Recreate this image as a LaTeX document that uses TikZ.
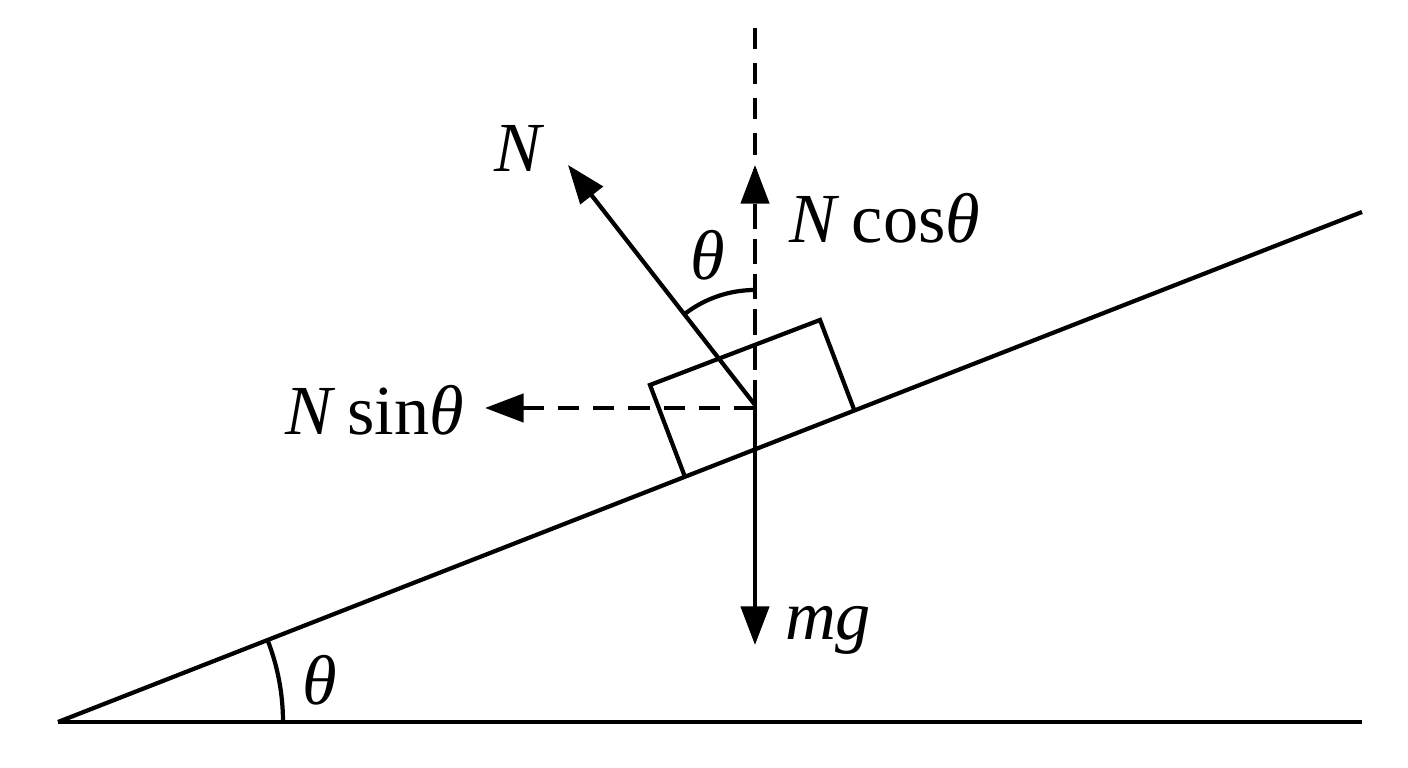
\documentclass[tikz,border=0pt]{standalone}
\usepackage{fontspec}
\setmainfont{Liberation Serif}
\usetikzlibrary{arrows.meta}
\begin{document}
\begin{tikzpicture}[x=0.01cm,y=-0.01cm,line width=1.2pt,
 arr/.style={-{Triangle[length=11pt,width=8pt]}},
 dsh/.style={dash pattern=on 6pt off 4pt},
 lab/.style={font=\fontsize{20}{23}\selectfont,inner sep=0pt}]
\useasboundingbox (0,0) rectangle (1408,768);
\coordinate (A) at (58,722);
\coordinate (B) at (1362,722);
\coordinate (C) at (1362,212);
\coordinate (O) at (755,405);
\coordinate (T) at (755,28);
\coordinate (Tc) at (755,165);
\coordinate (Nt) at (568,165);
\coordinate (S) at (485,408);
\coordinate (G) at (755,645);
\draw (A) -- (B);
\draw (A) -- (C);
\draw (685,477) -- (650,385) -- (820,320) -- (855,412);
\draw[dsh] (T) -- (O);
\draw[dsh,arr] (O) -- (Tc);
\draw[dsh,arr] (755,408) -- (S);
\draw[arr] (O) -- (G);
\draw[arr] (O) -- (Nt);
\draw (755,290) arc[start angle=-90,end angle=-128.7,radius=115];
\draw (283,722) arc[start angle=0,end angle=-21.36,radius=225];
\node[lab] (n) at (520,148) {\textit{N}};
\node[lab] (nc) at (885,218) {\textit{N}\,cos\textit{θ}};
\node[lab] (ns) at (375,410) {\textit{N}\,sin\textit{θ}};
\node[lab] (mg) at (828,630) {\textit{mg}};
\node[lab] (t1) at (708,255) {\textit{θ}};
\node[lab] (t2) at (320,680) {\textit{θ}};
\end{tikzpicture}
\end{document}
